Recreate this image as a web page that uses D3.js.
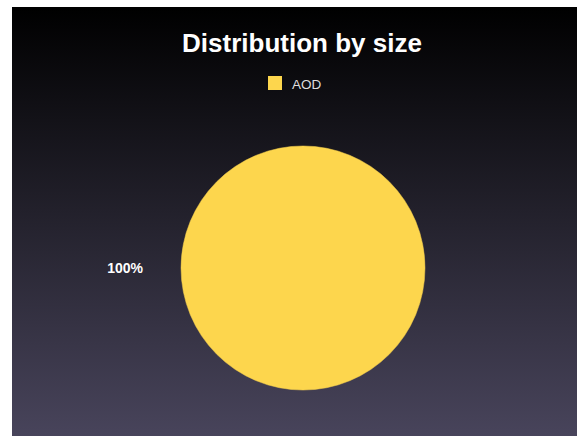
<!DOCTYPE html>
<html>
<head>
<meta charset="utf-8">
<script src="https://cdn.jsdelivr.net/npm/d3@7"></script>
<style>
  html, body { margin: 0; padding: 0; background: #fff; }
  svg { display: block; font-family: "Liberation Sans", Arial, sans-serif; }
</style>
</head>
<body>
<div id="chart"></div>
<script>
// chart data
const categories = ["AOD"];
const values = [100];
const colors = ["#fdd64d"];
const title = "Distribution by size";

const width = 577;
const height = 436;
const frame = { left: 12, top: 7 };
const center = { x: 303, y: 268 };
const radius = 122;

const svg = d3.select("#chart").append("svg")
  .attr("width", width)
  .attr("height", height);

const defs = svg.append("defs");
const bg = defs.append("linearGradient")
  .attr("id", "bgGradient")
  .attr("x1", "0%").attr("y1", "0%")
  .attr("x2", "0%").attr("y2", "100%");
bg.append("stop").attr("offset", "0%").attr("stop-color", "#000000");
bg.append("stop").attr("offset", "100%").attr("stop-color", "#48445b");

svg.append("rect")
  .attr("x", frame.left)
  .attr("y", frame.top)
  .attr("width", width - frame.left)
  .attr("height", height - frame.top)
  .attr("fill", "url(#bgGradient)");

svg.append("text")
  .attr("x", 302)
  .attr("y", 52)
  .attr("text-anchor", "middle")
  .attr("fill", "#ffffff")
  .style("font-size", "26px")
  .style("font-weight", "bold")
  .text(title);

// legend
const legend = svg.append("g").attr("transform", "translate(268,76)");
const legendItem = legend.selectAll("g")
  .data(categories)
  .enter()
  .append("g");
legendItem.append("rect")
  .attr("width", 14)
  .attr("height", 14)
  .attr("fill", (d, i) => colors[i]);
legendItem.append("text")
  .attr("x", 24)
  .attr("y", 13)
  .attr("fill", "#dddddd")
  .style("font-size", "13.5px")
  .text(d => d);

// pie starts at 3 o'clock and runs clockwise
const pie = d3.pie()
  .value(d => d)
  .sort(null)
  .startAngle(Math.PI / 2)
  .endAngle(Math.PI / 2 + 2 * Math.PI);

const arc = d3.arc()
  .innerRadius(0)
  .outerRadius(radius);

const total = d3.sum(values);
const slices = pie(values);

const g = svg.append("g")
  .attr("transform", `translate(${center.x},${center.y})`);

g.selectAll("path")
  .data(slices)
  .enter()
  .append("path")
  .attr("d", arc)
  .attr("fill", (d, i) => colors[i])
  .attr("stroke", "#f2cc4c")
  .attr("stroke-width", 0.5);

// labels outside the pie at the slice's middle angle
const labelRadius = radius + 38;
g.selectAll("text.label")
  .data(slices)
  .enter()
  .append("text")
  .attr("class", "label")
  .each(function (d) {
    const mid = (d.startAngle + d.endAngle) / 2;
    const x = Math.sin(mid) * labelRadius;
    const y = -Math.cos(mid) * labelRadius;
    d3.select(this)
      .attr("x", x)
      .attr("y", y + 5)
      .attr("text-anchor", x < 0 ? "end" : "start");
  })
  .attr("fill", "#ffffff")
  .style("font-size", "14px")
  .style("font-weight", "bold")
  .text(d => `${Math.round(d.data / total * 100)}%`);
</script>
</body>
</html>
